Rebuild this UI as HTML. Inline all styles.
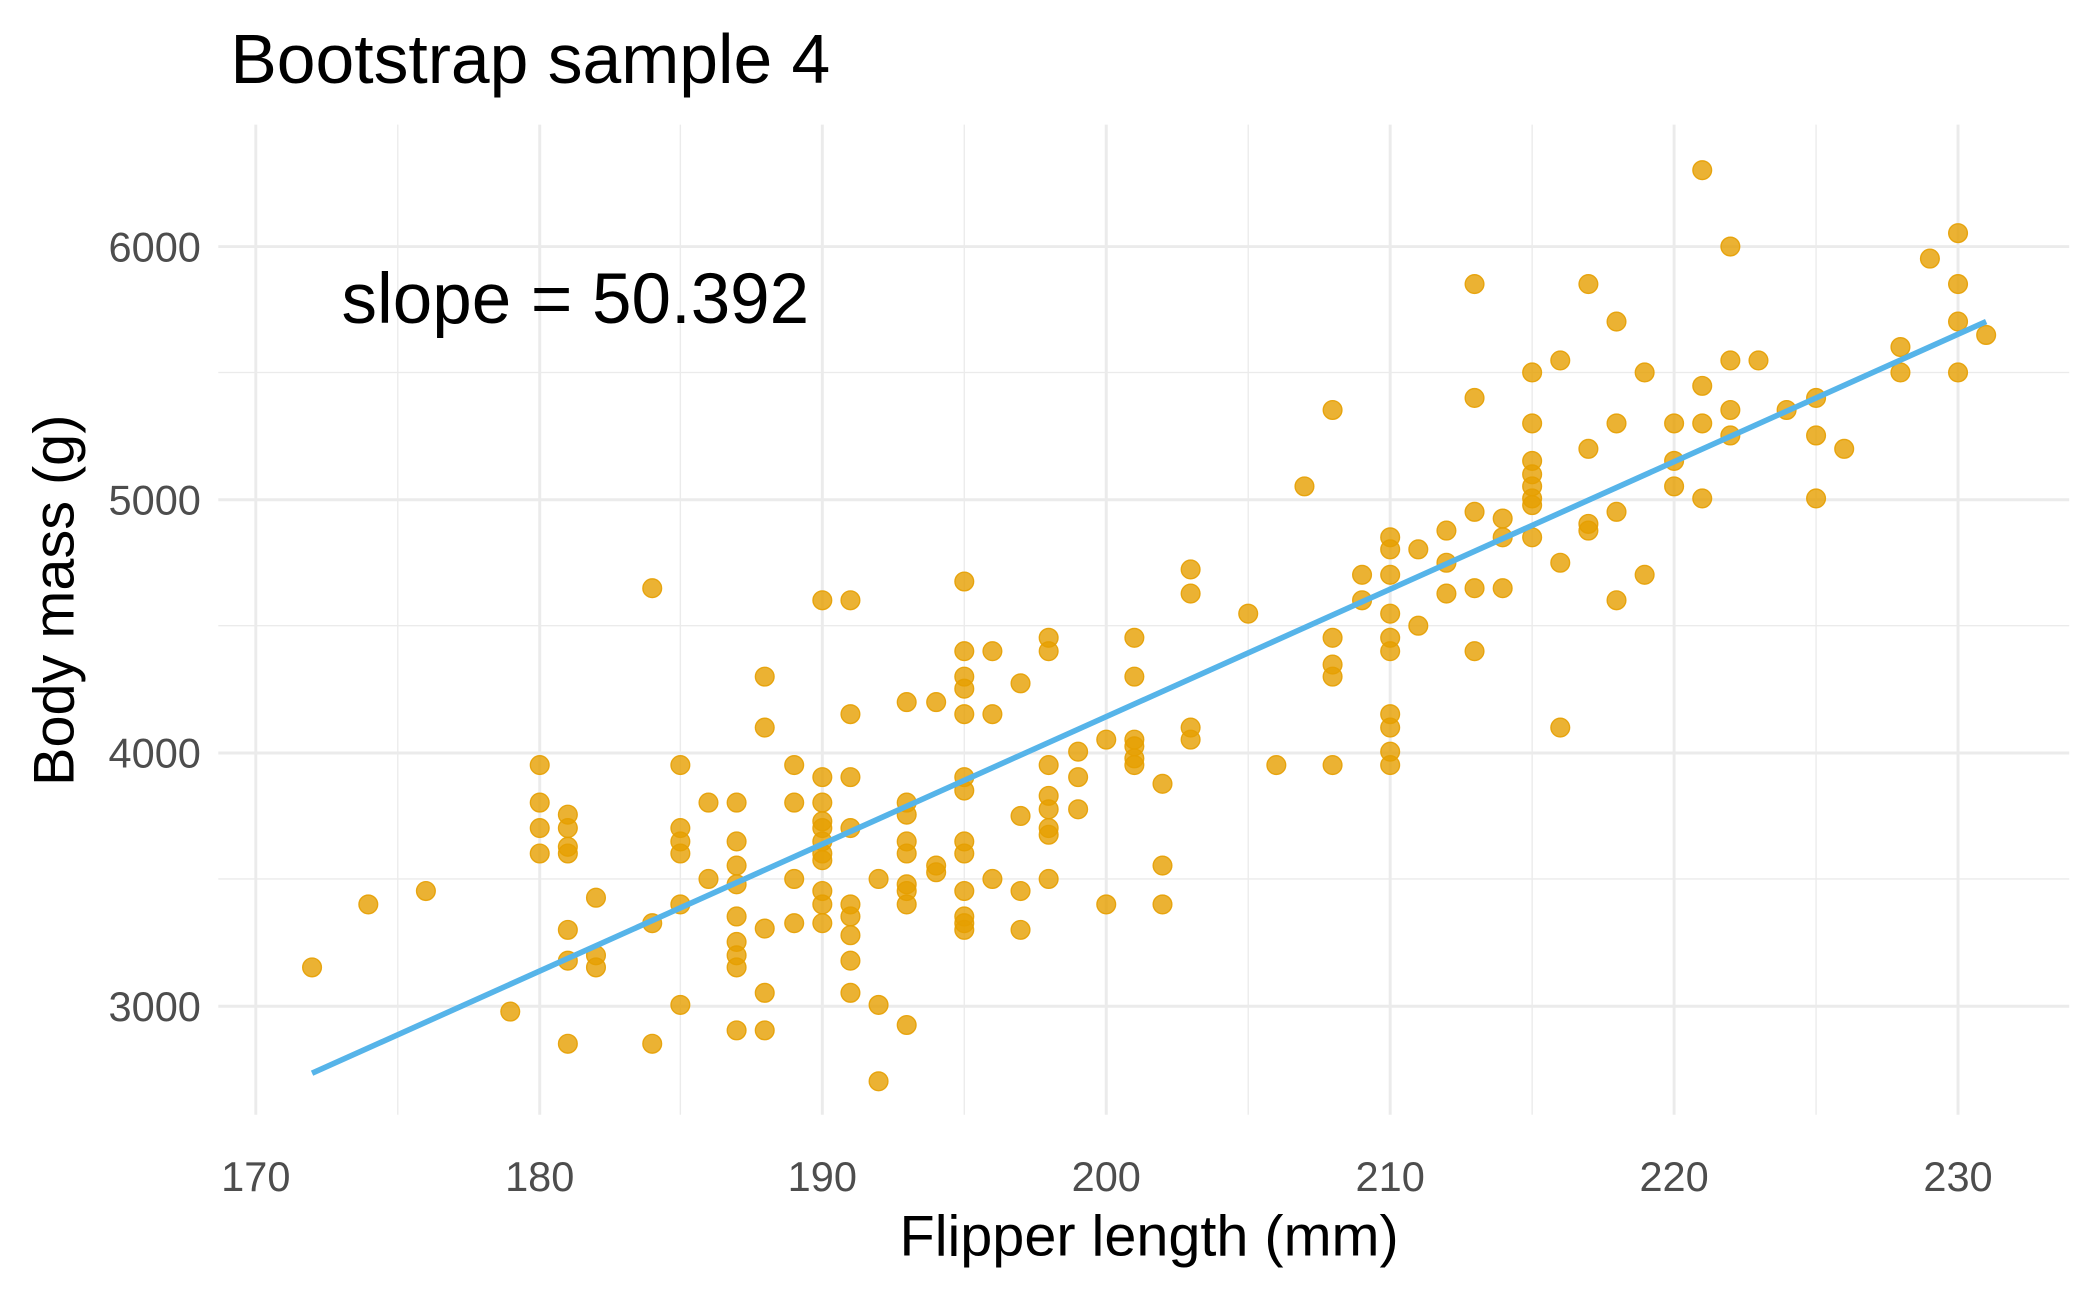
<!DOCTYPE html>
<html><head><meta charset="utf-8"><style>html,body{margin:0;padding:0;background:#fff}svg{display:block}</style></head>
<body>
<svg width="2100" height="1297" viewBox="0 0 1568 968" preserveAspectRatio="none" xmlns="http://www.w3.org/2000/svg" font-family="Liberation Sans, sans-serif">
<rect width="1568" height="968" fill="#fff"/>
<g stroke="#EBEBEB" stroke-width="1">
<line x1="297" y1="93" x2="297" y2="832"/><line x1="508" y1="93" x2="508" y2="832"/><line x1="720" y1="93" x2="720" y2="832"/><line x1="932" y1="93" x2="932" y2="832"/><line x1="1144" y1="93" x2="1144" y2="832"/><line x1="1356" y1="93" x2="1356" y2="832"/>
<line x1="163" y1="656" x2="1545" y2="656"/><line x1="163" y1="467" x2="1545" y2="467"/><line x1="163" y1="278" x2="1545" y2="278"/>
</g>
<g stroke="#EBEBEB" stroke-width="2.2">
<line x1="191" y1="93" x2="191" y2="832"/><line x1="403" y1="93" x2="403" y2="832"/><line x1="614" y1="93" x2="614" y2="832"/><line x1="826" y1="93" x2="826" y2="832"/><line x1="1038" y1="93" x2="1038" y2="832"/><line x1="1250" y1="93" x2="1250" y2="832"/><line x1="1462" y1="93" x2="1462" y2="832"/>
<line x1="163" y1="751" x2="1545" y2="751"/><line x1="163" y1="562" x2="1545" y2="562"/><line x1="163" y1="373" x2="1545" y2="373"/><line x1="163" y1="184" x2="1545" y2="184"/>
</g>
<g id="pts" fill="#E69F00" fill-opacity="0.8" stroke="#E69F00" stroke-opacity="0.9" stroke-width="1"></g>
<line x1="233" y1="801" x2="1483" y2="240" stroke="#56B4E9" stroke-width="4.2"/>
<g fill="#4D4D4D" font-size="31" text-anchor="end">
<text x="150" y="762">3000</text><text x="150" y="573">4000</text><text x="150" y="384">5000</text><text x="150" y="195">6000</text>
</g>
<g fill="#4D4D4D" font-size="31" text-anchor="middle">
<text x="191" y="889">170</text><text x="403" y="889">180</text><text x="614" y="889">190</text><text x="826" y="889">200</text><text x="1038" y="889">210</text><text x="1250" y="889">220</text><text x="1462" y="889">230</text>
</g>
<text x="858" y="937" font-size="43" text-anchor="middle" fill="#000">Flipper length (mm)</text>
<text transform="translate(55,448) rotate(-90)" font-size="43" text-anchor="middle" fill="#000">Body mass (g)</text>
<text x="172" y="62" font-size="52" fill="#000">Bootstrap sample 4</text>
<text x="255" y="241" font-size="53" fill="#000">slope = 50.392</text>
</svg>
<script>
var p=[[233,722],[275,675],[318,665],[381,755],[403,571],[403,599],[403,618],[403,637],[424,608],[424,618],[424,632],[424,637],[424,694],[424,717],[424,779],[445,670],[445,713],[445,722],[487,439],[487,689],[487,779],[508,571],[508,618],[508,628],[508,637],[508,675],[508,750],[529,599],[529,656],[550,599],[550,628],[550,646],[550,660],[550,684],[550,703],[550,713],[550,722],[550,769],[571,505],[571,543],[571,693],[571,741],[571,769],[593,571],[593,599],[593,656],[593,689],[614,448],[614,580],[614,599],[614,613],[614,618],[614,628],[614,637],[614,642],[614,665],[614,675],[614,689],[635,448],[635,533],[635,580],[635,618],[635,675],[635,684],[635,698],[635,717],[635,741],[656,656],[656,750],[656,807],[677,524],[677,599],[677,608],[677,628],[677,637],[677,660],[677,665],[677,675],[677,765],[699,524],[699,646],[699,651],[720,434],[720,486],[720,505],[720,514],[720,533],[720,580],[720,590],[720,628],[720,637],[720,665],[720,684],[720,689],[720,694],[741,486],[741,533],[741,656],[762,510],[762,609],[762,665],[762,694],[783,476],[783,486],[783,571],[783,594],[783,604],[783,618],[783,623],[783,656],[805,561],[805,580],[805,604],[826,552],[826,675],[847,476],[847,505],[847,552],[847,557],[847,566],[847,571],[868,585],[868,646],[868,675],[889,425],[889,443],[889,543],[889,552],[932,458],[953,571],[974,363],[995,306],[995,476],[995,496],[995,505],[995,571],[1017,429],[1017,448],[1038,401],[1038,410],[1038,429],[1038,458],[1038,476],[1038,486],[1038,533],[1038,543],[1038,561],[1038,571],[1059,410],[1059,467],[1080,396],[1080,420],[1080,443],[1101,212],[1101,297],[1101,382],[1101,439],[1101,486],[1122,387],[1122,401],[1122,439],[1144,278],[1144,316],[1144,344],[1144,354],[1144,363],[1144,372],[1144,377],[1144,401],[1165,269],[1165,420],[1165,543],[1186,212],[1186,335],[1186,391],[1186,396],[1207,240],[1207,316],[1207,382],[1207,448],[1228,278],[1228,429],[1250,316],[1250,344],[1250,363],[1271,127],[1271,288],[1271,316],[1271,372],[1292,184],[1292,269],[1292,306],[1292,325],[1313,269],[1334,306],[1356,297],[1356,325],[1356,372],[1377,335],[1419,259],[1419,278],[1441,193],[1462,174],[1462,212],[1462,240],[1462,278],[1483,250]];
var g=document.getElementById('pts'),s='';
p.forEach(function(q){s+='<circle cx="'+q[0]+'" cy="'+q[1]+'" r="7"/>';});
g.innerHTML=s;
</script>
</body></html>
